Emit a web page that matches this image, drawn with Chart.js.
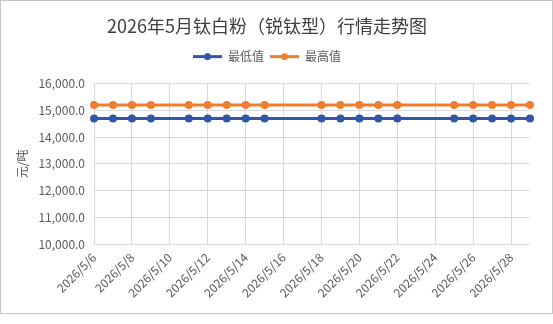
<!DOCTYPE html>
<html>
<head>
<meta charset="utf-8">
<script src="https://cdn.jsdelivr.net/npm/chart.js@4"></script>
<style>
  html, body { margin: 0; padding: 0; background: #fff; }
  #box { position: absolute; left: 0; top: 0; width: 551px; height: 312px; border: 1px solid #c6c6c6; }
</style>
</head>
<body>
<div id="box"><canvas id="chartTiO2"></canvas></div>
<script>
const dates = ["2026/5/6", "2026/5/7", "2026/5/8", "2026/5/9", "2026/5/10", "2026/5/11", "2026/5/12", "2026/5/13", "2026/5/14", "2026/5/15", "2026/5/16", "2026/5/17", "2026/5/18", "2026/5/19", "2026/5/20", "2026/5/21", "2026/5/22", "2026/5/23", "2026/5/24", "2026/5/25", "2026/5/26", "2026/5/27", "2026/5/28", "2026/5/29"];
const minPrice = [14700, 14700, 14700, 14700, null, 14700, 14700, 14700, 14700, 14700, null, null, 14700, 14700, 14700, 14700, 14700, null, null, 14700, 14700, 14700, 14700, 14700];
const maxPrice = [15200, 15200, 15200, 15200, null, 15200, 15200, 15200, 15200, 15200, null, null, 15200, 15200, 15200, 15200, 15200, null, null, 15200, 15200, 15200, 15200, 15200];

const blue = "#3056a4";
const orange = "#ed7d31";
const fontFam = "'Noto Sans CJK SC', 'Noto Sans', sans-serif";

// legend marker: short line with a dot in the middle
function legendMark(color) {
  const c = document.createElement("canvas");
  c.width = 29;
  c.height = 9;
  const g = c.getContext("2d");
  g.strokeStyle = color;
  g.lineWidth = 3;
  g.beginPath();
  g.moveTo(0, 4.5);
  g.lineTo(29, 4.5);
  g.stroke();
  g.fillStyle = color;
  g.beginPath();
  g.arc(14.5, 4.5, 3.5, 0, Math.PI * 2);
  g.fill();
  return c;
}
const marks = [legendMark(blue), legendMark(orange)];

// extra room under the legend
const legendGap = {
  id: "legendGap",
  beforeInit(chart) {
    const fit = chart.legend.fit;
    chart.legend.fit = function () {
      fit.bind(chart.legend)();
      this.height += 11;
    };
  },
};

document.addEventListener("DOMContentLoaded", () => {
  new Chart(document.querySelector("#chartTiO2"), {
    type: "line",
    data: {
      labels: dates,
      datasets: [
        {
          label: "最低值",
          data: minPrice,
          borderColor: blue,
          backgroundColor: blue,
          borderWidth: 3,
          pointRadius: 4,
          pointBorderWidth: 0,
          spanGaps: true,
          tension: 0,
        },
        {
          label: "最高值",
          data: maxPrice,
          borderColor: orange,
          backgroundColor: orange,
          borderWidth: 3,
          pointRadius: 4,
          pointBorderWidth: 0,
          spanGaps: true,
          tension: 0,
        },
      ],
    },
    options: {
      responsive: true,
      maintainAspectRatio: false,
      animation: false,
      layout: {
        padding: { top: 9, left: 3, right: 22, bottom: 7 },
      },
      scales: {
        x: {
          offset: false,
          grid: {
            drawTicks: false,
            color: (ctx) => (ctx.index % 2 === 0 ? "#d9d9d9" : "rgba(0,0,0,0)"),
          },
          border: { display: false },
          ticks: {
            autoSkip: false,
            maxRotation: 45,
            minRotation: 45,
            padding: 6,
            color: "#595959",
            font: { family: fontFam, size: 12 },
            callback: function (val, i) {
              return i % 2 === 0 ? this.getLabelForValue(val) : "";
            },
          },
        },
        y: {
          min: 10000,
          max: 16000,
          grid: { drawTicks: false, color: "#d9d9d9" },
          border: { display: false },
          ticks: {
            stepSize: 1000,
            padding: 9,
            color: "#595959",
            font: { family: fontFam, size: 12 },
            callback: (v) => v.toLocaleString("en-US", { minimumFractionDigits: 1, maximumFractionDigits: 1 }),
          },
          title: {
            display: true,
            text: "元/吨",
            color: "#595959",
            font: { family: fontFam, size: 12 },
            padding: { top: 11, bottom: 0 },
          },
        },
      },
      plugins: {
        title: {
          display: true,
          text: "2026年5月钛白粉（锐钛型）行情走势图",
          color: "#404040",
          font: { family: fontFam, size: 18, weight: "normal" },
          padding: { top: 5, bottom: 8 },
        },
        legend: {
          position: "top",
          labels: {
            usePointStyle: true,
            pointStyleWidth: 29,
            boxHeight: 9,
            padding: 6,
            color: "#595959",
            font: { family: fontFam, size: 12 },
            generateLabels: (chart) =>
              Chart.defaults.plugins.legend.labels.generateLabels(chart).map((item) => {
                item.pointStyle = marks[item.datasetIndex];
                return item;
              }),
          },
        },
        tooltip: { enabled: false },
      },
    },
    plugins: [legendGap],
  });
});
</script>
</body>
</html>
